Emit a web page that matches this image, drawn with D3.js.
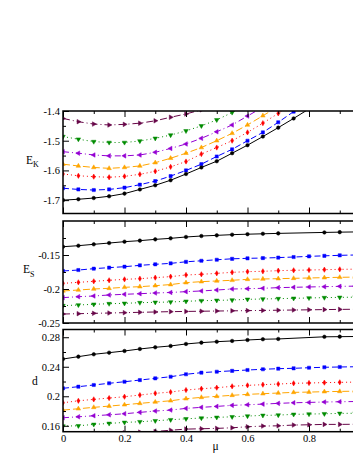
<!DOCTYPE html>
<html>
<head>
<meta charset="utf-8">
<script src="https://cdn.jsdelivr.net/npm/d3@7"></script>
<style>
  body { margin: 0; background: #fff; }
  svg { display: block; }
  text { font-family: "Liberation Serif", "Times New Roman", serif; }
</style>
</head>
<body>
<div id="vis"></div>
<script>
var width = 353, height = 457;

// mu values where the points sit
var mu = [0, 0.05, 0.1, 0.15, 0.2, 0.25, 0.3, 0.35, 0.4, 0.45, 0.5, 0.55, 0.6, 0.65, 0.7, 0.75, 0.8, 0.85, 0.9, 0.95];

// top panel: E_K (curves leave the frame at the top, so they stop early)
var ekBlack  = [-1.700, -1.697, -1.693, -1.687, -1.678, -1.664, -1.650, -1.633, -1.612, -1.590, -1.569, -1.542, -1.515, -1.486, -1.456, -1.425, -1.393];
var ekBlue   = [-1.660, -1.664, -1.666, -1.664, -1.658, -1.648, -1.636, -1.619, -1.600, -1.579, -1.553, -1.529, -1.500, -1.472, -1.438, -1.402, -1.366];
var ekRed    = [-1.612, -1.618, -1.621, -1.623, -1.620, -1.613, -1.603, -1.588, -1.570, -1.545, -1.523, -1.500, -1.472, -1.441, -1.408, -1.375];
var ekOrange = [-1.579, -1.585, -1.590, -1.593, -1.590, -1.585, -1.574, -1.559, -1.542, -1.523, -1.500, -1.475, -1.447, -1.416, -1.385];
var ekViolet = [-1.537, -1.542, -1.548, -1.551, -1.551, -1.548, -1.539, -1.526, -1.511, -1.492, -1.470, -1.447, -1.417, -1.387];
var ekGreen  = [-1.486, -1.495, -1.503, -1.506, -1.506, -1.501, -1.492, -1.481, -1.467, -1.450, -1.430, -1.405, -1.380];
var ekMaroon = [-1.425, -1.436, -1.444, -1.447, -1.445, -1.441, -1.433, -1.421, -1.410, -1.396];

// middle panel: E_S (black has no symbols at 0.75 and 0.8)
var esBlack  = [-0.1378, -0.1363, -0.1343, -0.1324, -0.1304, -0.1289, -0.1270, -0.1255, -0.1235, -0.1221, -0.1211, -0.1201, -0.1194, -0.1188, -0.1182, null, null, -0.1168, -0.1164, -0.1161];
var esBlue   = [-0.1735, -0.1721, -0.1701, -0.1686, -0.1672, -0.1652, -0.1637, -0.1623, -0.1600, -0.1585, -0.1570, -0.1556, -0.1549, -0.1545, -0.1538, -0.1530, -0.1520, -0.1512, -0.1505, -0.1500];
var esRed    = [-0.1917, -0.1902, -0.1887, -0.1872, -0.1858, -0.1848, -0.1833, -0.1818, -0.1794, -0.1784, -0.1770, -0.1755, -0.1745, -0.1740, -0.1730, -0.1725, -0.1721, -0.1716, -0.1711, -0.1708];
var esOrange = [-0.2029, -0.2015, -0.2000, -0.1990, -0.1975, -0.1966, -0.1951, -0.1935, -0.1907, -0.1892, -0.1882, -0.1872, -0.1858, -0.1853, -0.1848, -0.1843, -0.1838, -0.1833, -0.1828, -0.1825];
var esViolet = [-0.2127, -0.2113, -0.2103, -0.2088, -0.2078, -0.2069, -0.2059, -0.2051, -0.2039, -0.2029, -0.2015, -0.2000, -0.1995, -0.1990, -0.1980, -0.1975, -0.1970, -0.1966, -0.1961, -0.1958];
var esGreen  = [-0.2245, -0.2235, -0.2225, -0.2216, -0.2211, -0.2201, -0.2196, -0.2191, -0.2181, -0.2172, -0.2167, -0.2162, -0.2152, -0.2147, -0.2142, -0.2137, -0.2132, -0.2127, -0.2123, -0.2120];
var esMaroon = [-0.2368, -0.2363, -0.2358, -0.2353, -0.2348, -0.2343, -0.2338, -0.2333, -0.2330, -0.2327, -0.2324, -0.2321, -0.2318, -0.2315, -0.2312, -0.2309, -0.2306, -0.2303, -0.2300, -0.2298];

// bottom panel: d
var dBlack  = [0.2505, 0.2537, 0.2569, 0.2591, 0.2614, 0.2641, 0.2664, 0.2682, 0.2709, 0.2727, 0.2740, 0.2750, 0.2763, 0.2773, 0.2777, null, null, 0.2806, 0.2808, 0.2810];
var dBlue   = [0.2108, 0.2130, 0.2153, 0.2176, 0.2197, 0.2220, 0.2243, 0.2265, 0.2298, 0.2320, 0.2333, 0.2345, 0.2356, 0.2366, 0.2374, 0.2379, 0.2387, 0.2393, 0.2397, 0.2400];
var dRed    = [0.1912, 0.1939, 0.1958, 0.1976, 0.1994, 0.2017, 0.2040, 0.2057, 0.2085, 0.2102, 0.2116, 0.2135, 0.2148, 0.2157, 0.2166, 0.2176, 0.2180, 0.2185, 0.2189, 0.2192];
var dOrange = [0.1813, 0.1831, 0.1850, 0.1867, 0.1885, 0.1904, 0.1922, 0.1939, 0.1967, 0.1985, 0.1999, 0.2013, 0.2026, 0.2035, 0.2044, 0.2053, 0.2057, 0.2062, 0.2066, 0.2069];
var dViolet = [0.1709, 0.1722, 0.1736, 0.1749, 0.1763, 0.1782, 0.1800, 0.1813, 0.1836, 0.1850, 0.1863, 0.1877, 0.1885, 0.1894, 0.1904, 0.1912, 0.1917, 0.1922, 0.1926, 0.1929];
var dGreen  = [0.1596, 0.1600, 0.1619, 0.1632, 0.1646, 0.1655, 0.1668, 0.1682, 0.1695, 0.1705, 0.1714, 0.1722, 0.1732, 0.1741, 0.1745, 0.1755, 0.1759, 0.1763, 0.1768, 0.1770];
var dMaroon = [0.1475, 0.1482, 0.1490, 0.1498, 0.1506, 0.1514, 0.1522, 0.1540, 0.1555, 0.1560, 0.1565, 0.1573, 0.1587, 0.1596, 0.1600, 0.1610, 0.1614, 0.1619, 0.1619, 0.1621];

// tick values (1 sits past the picture's right edge, so it gets no label)
var muTicks = [0, 0.2, 0.4, 0.6, 0.8, 1];
var muLabels = ["0", "0.2", "0.4", "0.6", "0.8", ""];
var muMinor = [0.1, 0.3, 0.5, 0.7, 0.9];
var ekTicks = [-1.4, -1.5, -1.6, -1.7];
var ekMinor = [-1.45, -1.55, -1.65];
var esTicks = [-0.15, -0.2, -0.25];
var esMinor = [-0.125, -0.175, -0.225];
var dTicks = [0.28, 0.24, 0.2, 0.16];
var dMinor = [0.26, 0.22, 0.18];

// series look (xmgrace palette)
var seriesColors = ["#000000", "#0000ff", "#ff0000", "#ffa500", "#9400d3", "#008b00", "#670748"];
var seriesDash = [null, "6,3", "1,3", "7,3", "6,3,1,3", "1,3", "7,3,1,3"];
var seriesSymbol = ["circle", "square", "diamond", "up", "left", "down", "right"];

var panels = [
  { id: "ek", series: [ekBlack, ekBlue, ekRed, ekOrange, ekViolet, ekGreen, ekMaroon],
    domain: [-1.745, -1.4], top: 111, bottom: 213.5, ticks: ekTicks, minor: ekMinor },
  { id: "es", series: [esBlack, esBlue, esRed, esOrange, esViolet, esGreen, esMaroon],
    domain: [-0.25, -0.1], top: 221, bottom: 323, ticks: esTicks, minor: esMinor },
  { id: "d", series: [dBlack, dBlue, dRed, dOrange, dViolet, dGreen, dMaroon],
    domain: [0.152, 0.2905], top: 329.5, bottom: 431.7, ticks: dTicks, minor: dMinor }
];

var svg = d3.select("#vis")
  .append("svg")
  .attr("width", width)
  .attr("height", height);

var x = d3.scaleLinear().domain([0, 1]).range([63, 370.5]);

// small grace-like symbols (size is area in px^2)
function symbolPath(kind) {
  var gen;
  if (kind == "circle") gen = d3.symbol(d3.symbolCircle, 10);
  else if (kind == "square") gen = d3.symbol(d3.symbolSquare, 10);
  else if (kind == "diamond") gen = d3.symbol(d3.symbolDiamond, 8);
  else gen = d3.symbol(d3.symbolTriangle, 9);
  return gen();
}
var rotation = { up: 0, right: 90, down: 180, left: -90, circle: 0, square: 0, diamond: 0 };

function tidyAxis(g) {
  g.select(".domain").remove();
  g.selectAll(".tick line").attr("stroke", "#000").attr("stroke-width", 1);
  g.selectAll("text")
    .attr("font-family", '"Liberation Serif", "Times New Roman", serif')
    .attr("font-size", 10.5)
    .attr("fill", "#000");
}

panels.forEach(function(p, pi) {
  var y = d3.scaleLinear().domain(p.domain).range([p.bottom, p.top]);

  svg.append("clipPath")
    .attr("id", "clip-" + p.id)
    .append("rect")
    .attr("x", x(0))
    .attr("y", p.top)
    .attr("width", x(1) - x(0))
    .attr("height", p.bottom - p.top);

  var plot = svg.append("g").attr("clip-path", "url(#clip-" + p.id + ")");

  // draw from the last series so black ends up on top
  for (var s = p.series.length - 1; s >= 0; s--) {
    var pts = [];
    p.series[s].forEach(function(v, i) {
      if (v !== null) pts.push({ mu: mu[i], v: v });
    });

    var line = d3.line().x(d => x(d.mu)).y(d => y(d.v));
    plot.append("path")
      .datum(pts)
      .attr("d", line)
      .attr("fill", "none")
      .attr("stroke", seriesColors[s])
      .attr("stroke-width", 1)
      .attr("stroke-dasharray", seriesDash[s]);

    var kind = seriesSymbol[s];
    plot.selectAll(".sym" + s)
      .data(pts)
      .enter()
      .append("path")
      .attr("class", "sym" + s)
      .attr("d", symbolPath(kind))
      .attr("transform", d => "translate(" + x(d.mu) + "," + y(d.v) + ") rotate(" + rotation[kind] + ")")
      .attr("fill", seriesColors[s])
      .attr("stroke", seriesColors[s])
      .attr("stroke-width", 0.5);
  }

  // frame
  svg.append("rect")
    .attr("x", x(0))
    .attr("y", p.top)
    .attr("width", x(1) - x(0))
    .attr("height", p.bottom - p.top)
    .attr("fill", "none")
    .attr("stroke", "#000")
    .attr("stroke-width", 1.5);

  // x ticks, inside, top and bottom
  var last = pi == panels.length - 1;
  svg.append("g")
    .attr("transform", "translate(0," + p.bottom + ")")
    .call(d3.axisBottom(x).tickValues(muTicks).tickSize(-6).tickPadding(2.5)
      .tickFormat(last ? ((d, i) => muLabels[i]) : ""))
    .call(tidyAxis);
  svg.append("g")
    .attr("transform", "translate(0," + p.bottom + ")")
    .call(d3.axisBottom(x).tickValues(muMinor).tickSize(-3).tickFormat(""))
    .call(tidyAxis);
  svg.append("g")
    .attr("transform", "translate(0," + p.top + ")")
    .call(d3.axisTop(x).tickValues(muTicks).tickSize(-6).tickFormat(""))
    .call(tidyAxis);
  svg.append("g")
    .attr("transform", "translate(0," + p.top + ")")
    .call(d3.axisTop(x).tickValues(muMinor).tickSize(-3).tickFormat(""))
    .call(tidyAxis);

  // y ticks, inside on the left
  svg.append("g")
    .attr("transform", "translate(" + x(0) + ",0)")
    .call(d3.axisLeft(y).tickValues(p.ticks).tickSize(-6).tickPadding(3)
      .tickFormat(d => String(d)))
    .call(tidyAxis);
  svg.append("g")
    .attr("transform", "translate(" + x(0) + ",0)")
    .call(d3.axisLeft(y).tickValues(p.minor).tickSize(-3).tickFormat(""))
    .call(tidyAxis);
});

// axis titles
var ek = svg.append("text").attr("x", 26).attr("y", 163.5).attr("font-size", 11.5);
ek.append("tspan").text("E");
ek.append("tspan").attr("font-size", 8).attr("dy", 3).text("K");

var es = svg.append("text").attr("x", 23).attr("y", 272.5).attr("font-size", 11.5);
es.append("tspan").text("E");
es.append("tspan").attr("font-size", 8).attr("dy", 4).text("S");

svg.append("text").attr("x", 32).attr("y", 385).attr("font-size", 11.5).text("d");

svg.append("text").attr("x", 215.5).attr("y", 450).attr("font-size", 11.5)
  .attr("text-anchor", "middle").text("μ");
</script>
</body>
</html>
